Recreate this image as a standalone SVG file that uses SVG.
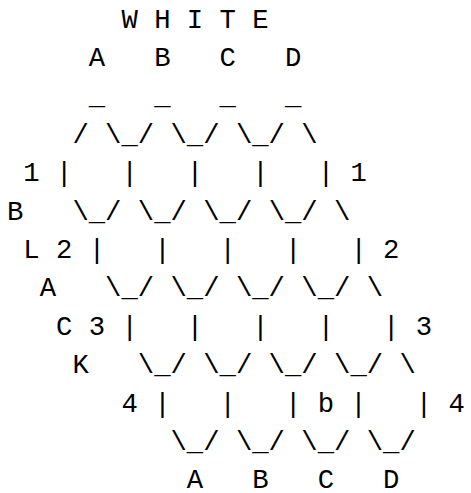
<svg xmlns="http://www.w3.org/2000/svg" width="471" height="493" viewBox="0 0 471 493" xml:space="preserve">
<style>
text { font-family: "Liberation Mono", "DejaVu Sans Mono", monospace; font-size: 27.25px; fill: #000; white-space: pre; }
</style>
<rect width="471" height="493" fill="#fff"/>
<g id="board">
<text x="121.45" y="27.5">W H I T E</text>
<text x="88.75" y="65.9">A   B   C   D</text>
<text x="88.75" y="104.3">_   _   _   _</text>
<text x="72.4" y="142.7">/ \_/ \_/ \_/ \</text>
<text x="23.35" y="181.1">1 |   |   |   |   | 1</text>
<text x="7" y="219.5">B   \_/ \_/ \_/ \_/ \</text>
<text x="23.35" y="257.9">L 2 |   |   |   |   | 2</text>
<text x="39.7" y="296.3">A   \_/ \_/ \_/ \_/ \</text>
<text x="56.05" y="334.7">C 3 |   |   |   |   | 3</text>
<text x="72.4" y="373.1">K   \_/ \_/ \_/ \_/ \</text>
<text x="121.45" y="411.5">4 |   |   | b |   | 4</text>
<text x="170.5" y="449.9">\_/ \_/ \_/ \_/</text>
<text x="186.85" y="488.3">A   B   C   D</text>
</g>
</svg>
